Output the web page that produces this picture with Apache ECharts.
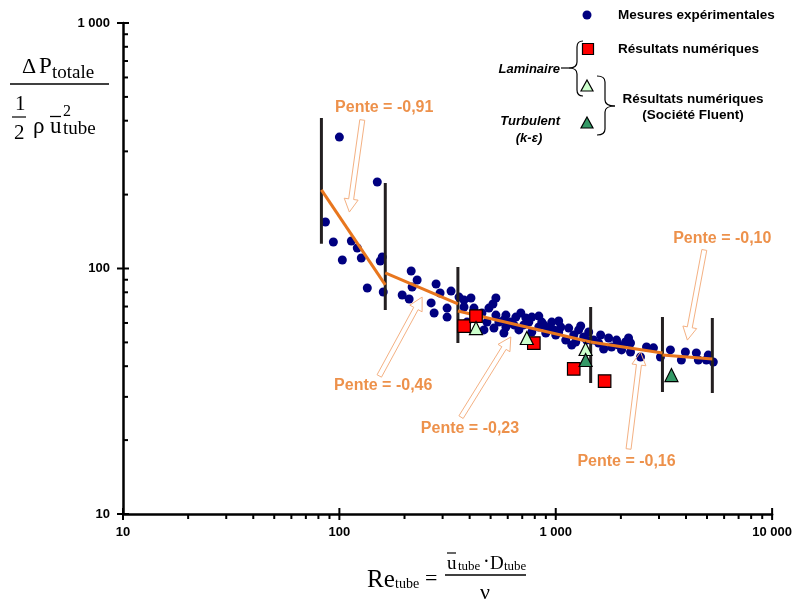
<!DOCTYPE html>
<html><head><meta charset="utf-8">
<script src="https://cdn.jsdelivr.net/npm/echarts@6/dist/echarts.min.js"></script>
<style>html,body{margin:0;padding:0;background:#fff}#c{width:795px;height:614px}</style>
</head><body><div id="c"></div>
<script>
// ---- data ----
const measuresRe = [100,149.7,86.2,93.8,103.2,113.6,121.0,126.3,134.6,154.5,157.8,159.5,195.1,214.7,228.8,216.9,210.1,279.9,292.0,328.2,265.5,274.1,314.6,314.6,376.7,405.7,357.3,376.7,418.8,456.0,491.2,529.0,465.8,529.0,512.6,388.9,588.3,654.0,727.5,775.3,861.9,958.5,1054,1148,1276,1420,588.3,675.3,775.3,899.3,1000,1112,1237,546.1,620.2,712.1,835.0,928.4,1032,1346,1612,1755,1910,2102,2216,1578,1811,2015,2216,2465,2627,2829,3047,3388,3807,3973,4465,4560,5070,4965,5347,1497,576,640.6,751,880.5,979,1211,1389,1951,432.5,480.8,689.7,835,1032,1304,1185,1665,2170,576,518];
const measuresDP = [343,225,154.7,128.2,108.3,129.4,121.2,110.4,83.3,107.3,111.4,80.2,78.0,97.7,89.8,84.1,75.1,86.5,79.5,80.9,72.4,65.9,69.0,63.4,74.4,75.8,76.5,69.7,69.0,65.9,69.0,75.8,56.2,64.6,71.7,60.5,64.6,63.4,62.9,63.4,60.5,60.5,57.8,57.2,56.2,55.1,57.8,56.2,55.1,54.6,53.6,51.1,50.2,60.5,60.5,58.9,57.8,57.2,55.1,52.6,53.6,52.1,51.1,50.2,49.7,49.7,47.9,46.6,45.7,43.6,47.9,47.5,43.6,46.6,42.4,45.7,45.3,42.4,44.4,42.4,41.6,51.1,61.7,58.9,60.5,58.9,56.2,53.6,51.1,48.8,64.0,60.5,65.9,64.0,61.1,58.3,48.8,47.0,52.1,54.6,57.2];
const laminarRe = [377,428,792,1211,1682];
const laminarDP = [58.3,64.0,49.7,39.0,34.8];
const fluentLamRe = [428,735,1374];
const fluentLamDP = [57.2,52.1,47.0];
const fluentTurbRe = [1374,3425];
const fluentTurbDP = [42.4,36.8];
const barRe = [82.6,163,353,1450,3113,5293];
const barLow = [126,67.8,49.7,34.2,31.4,31.1];
const barHigh = [410,223,101.4,69.7,63.5,62.9];
const fitStartRe = [82.6,163,353,1450,3113];
const fitStartDP = [209,95.9,67.1,50.2,44.4];
const fitEndRe = [163,353,1450,3113,5293];
const fitEndDP = [85.7,71.7,50.2,45.3,42.8];
const slopeLabels = ['Pente = -0,91','Pente = -0,46','Pente = -0,23','Pente = -0,16','Pente = -0,10'];
const slopeLabelRe = [161.2,159.5,401.5,2124,5884];
const slopeLabelDP = [450.7,33.2,22.2,16.4,131.9];
const arrowFromRe = [127.6,152.9,365,2170,4860];
const arrowFromDP = [402.7,36.5,24.8,18.4,119];
const arrowToRe = [111.2,241.3,620,2465,4058];
const arrowToDP = [169.8,76.5,52.6,45.7,51.1];
const xMajorTicks = [10,100,1000,10000];
const xMinorTicks = [20,30,40,50,60,70,80,90,200,300,400,500,600,700,800,900,2000,3000,4000,5000,6000,7000,8000,9000];
const yMajorTicks = [10,100,1000];
const yMinorTicks = [20,30,40,50,60,70,80,90,200,300,400,500,600,700,800,900];

// ---- styles ----
const SANS = '"Liberation Sans", Arial, sans-serif';
const SERIF = '"Liberation Serif", "Times New Roman", serif';
const ORANGE = '#E8761E';
const fmt = v => String(v).replace(/\B(?=(\d{3})+(?!\d))/g, ' ');

const chart = echarts.init(document.getElementById('c'), null, {renderer:'canvas'});

const zip = (a,b) => a.map((v,i)=>[v,b[i]]);

const series = [];
series.push({type:'scatter', name:'mes', data: zip(measuresRe, measuresDP), symbol:'circle', symbolSize:9,
  itemStyle:{color:'#000080', opacity:1}, z:2, silent:true});
barRe.forEach((x,i)=>series.push({type:'line', data:[[x,barLow[i]],[x,barHigh[i]]], symbol:'none',
  lineStyle:{color:'#231F20', width:3}, z:3, silent:true}));
fitStartRe.forEach((x,i)=>series.push({type:'line', data:[[x,fitStartDP[i]],[fitEndRe[i],fitEndDP[i]]], symbol:'none',
  lineStyle:{color:ORANGE, width:3}, z:4, silent:true}));
series.push({type:'scatter', data: zip(laminarRe, laminarDP), symbol:'rect', symbolSize:12.5,
  itemStyle:{color:'#FF0000', borderColor:'#000', borderWidth:1.2, opacity:1}, z:5, silent:true});
series.push({type:'scatter', data: zip(fluentLamRe, fluentLamDP), symbol:'triangle', symbolSize:13,
  itemStyle:{color:'#CCFFCC', borderColor:'#000', borderWidth:1.2, opacity:1}, z:5, silent:true});
series.push({type:'scatter', data: zip(fluentTurbRe, fluentTurbDP), symbol:'triangle', symbolSize:13,
  itemStyle:{color:'#339966', borderColor:'#000', borderWidth:1.2, opacity:1}, z:5, silent:true});
series.push({type:'custom', z:6, silent:true, clip:false,
  data: arrowFromRe.map((x,i)=>[x, arrowFromDP[i], arrowToRe[i], arrowToDP[i]]),
  encode:{x:[0,2], y:[1,3]},
  renderItem:(params, api)=>{
    const s = api.coord([api.value(0), api.value(1)]);
    const t = api.coord([api.value(2), api.value(3)]);
    const dx=t[0]-s[0], dy=t[1]-s[1], L=Math.hypot(dx,dy);
    const ux=dx/L, uy=dy/L, nx=-uy, ny=ux;
    const w=2.5, h=7, hl=13;
    const bx=t[0]-ux*hl, by=t[1]-uy*hl;
    const pts=[[s[0]+nx*w,s[1]+ny*w],[bx+nx*w,by+ny*w],[bx+nx*h,by+ny*h],[t[0],t[1]],
      [bx-nx*h,by-ny*h],[bx-nx*w,by-ny*w],[s[0]-nx*w,s[1]-ny*w]];
    return {type:'polygon', shape:{points:pts}, style:{fill:'rgba(255,255,255,0)', stroke:'#F4B183', lineWidth:1}};
  }});
series.push({type:'scatter', z:7, silent:true, symbolSize:0,
  data: slopeLabels.map((t,i)=>({name:t, value:[slopeLabelRe[i], slopeLabelDP[i]]})),
  label:{show:true, position:'inside', formatter:p=>p.name, color:ORANGE, fontFamily:SANS, fontWeight:'bold', fontSize:16}});
series.push({type:'custom', z:8, silent:true, clip:false,
  data: xMajorTicks.map(v=>[v,10,1]).concat(xMinorTicks.map(v=>[v,10,0])),
  encode:{x:0, y:1},
  renderItem:(params, api)=>{
    const p = api.coord([api.value(0), 10]);
    const major = api.value(2) === 1;
    return {type:'line', shape:{x1:p[0], y1:p[1]+(major?-6:0), x2:p[0], y2:p[1]+(major?6:5)}, style:{stroke:'#000', lineWidth:2}};
  }});
series.push({type:'custom', z:8, silent:true, clip:false,
  data: yMajorTicks.map(v=>[10,v,1]).concat(yMinorTicks.map(v=>[10,v,0])),
  encode:{x:0, y:1},
  renderItem:(params, api)=>{
    const p = api.coord([10, api.value(1)]);
    const major = api.value(2) === 1;
    return {type:'line', shape:{x1:p[0]+(major?-6:0), y1:p[1], x2:p[0]+(major?6:5), y2:p[1]}, style:{stroke:'#000', lineWidth:2}};
  }});

const txt = (x,y,text,font,extra) => ({type:'text', x:x, y:y, style:Object.assign({text:text, font:font, fill:'#000', textVerticalAlign:'middle'}, extra||{})});
const hline = (x1,y,x2,w) => ({type:'line', shape:{x1:x1,y1:y,x2:x2,y2:y}, style:{stroke:'#000', lineWidth:w||1.3}});
const vline = (x,y1,y2,w) => ({type:'line', shape:{x1:x,y1:y1,x2:x,y2:y2}, style:{stroke:'#000', lineWidth:w||1.2}});
const qc = (x1,y1,cx,cy,x2,y2) => ({type:'bezierCurve', shape:{x1:x1,y1:y1,cpx1:cx,cpy1:cy,x2:x2,y2:y2}, style:{stroke:'#000', fill:null, lineWidth:1.2}});

const graphic = [
  {type:'circle', shape:{cx:587, cy:15, r:4.5}, style:{fill:'#000080'}},
  txt(618,15,'Mesures expérimentales','bold 13.5px '+SANS),
  {type:'rect', shape:{x:582.5, y:43.5, width:11, height:11}, style:{fill:'#FF0000', stroke:'#000', lineWidth:1.2}},
  txt(618,49,'Résultats numériques','bold 13.5px '+SANS),
  {type:'polygon', shape:{points:[[587,80],[593,91],[581,91]]}, style:{fill:'#CCFFCC', stroke:'#000', lineWidth:1.2}},
  {type:'polygon', shape:{points:[[587,117],[593,128],[581,128]]}, style:{fill:'#339966', stroke:'#000', lineWidth:1.2}},
  // left brace
  qc(583,41,577,41,577,47), vline(577,47,62), qc(577,62,577,68,569,68), qc(569,68,577,68,577,74), vline(577,74,90), qc(577,90,577,96,583,96),
  hline(561,68,569,1.2),
  txt(560,69,'Laminaire','italic bold 13px '+SANS,{textAlign:'right'}),
  // right brace
  qc(597,76,605,76,605,82), vline(605,82,100), qc(605,100,605,106,615,106), qc(615,106,605,106,605,112), vline(605,112,129), qc(605,129,605,135,597,135),
  txt(693,99,'Résultats numériques','bold 13.5px '+SANS,{textAlign:'center'}),
  txt(693,115,'(Société Fluent)','bold 13.5px '+SANS,{textAlign:'center'}),
  txt(560,121,'Turbulent','italic bold 13px '+SANS,{textAlign:'right'}),
  txt(529,138,'(k-ε)','italic bold 13px '+SANS,{textAlign:'center'}),
  // y axis title
  txt(22,67,'Δ','22px '+SERIF),
  txt(39,67,'P','23px '+SERIF),
  txt(52,73,'totale','19px '+SERIF),
  hline(10,84,109,1.5),
  txt(15,104,'1','21px '+SERIF),
  hline(12,117,26,1.2),
  txt(14,133,'2','21px '+SERIF),
  txt(33,127,'ρ','23px '+SERIF),
  txt(50,127,'u','23px '+SERIF),
  hline(50,116.5,61,1.3),
  txt(63,112,'2','16px '+SERIF),
  txt(63,129,'tube','19px '+SERIF),
  // x axis title
  txt(367,580,'Re','25px '+SERIF),
  txt(395,584,'tube','14px '+SERIF),
  txt(425,579,'=','22px '+SERIF),
  txt(447,564,'u','19px '+SERIF),
  hline(447,553,456,1.2),
  txt(458,567,'tube','13px '+SERIF),
  txt(483,563,'·','20px '+SERIF),
  txt(490,564,'D','19px '+SERIF),
  txt(504,567,'tube','13px '+SERIF),
  hline(445,575,526,1.3),
  txt(485,593,'ν','22px '+SERIF,{textAlign:'center'})
];

chart.setOption({
  animation:false,
  backgroundColor:'#fff',
  grid:{left:123, top:23, right:21, bottom:100, containLabel:false},
  xAxis:{type:'log', logBase:10, min:10, max:10000,
    axisLine:{show:true, onZero:false, lineStyle:{color:'#000', width:2.5}},
    axisTick:{show:false}, minorTick:{show:false}, splitLine:{show:false}, minorSplitLine:{show:false},
    axisLabel:{formatter:fmt, color:'#000', fontFamily:SANS, fontWeight:'bold', fontSize:13, margin:12, showMinLabel:true, showMaxLabel:true}},
  yAxis:{type:'log', logBase:10, min:10, max:1000,
    axisLine:{show:true, onZero:false, lineStyle:{color:'#000', width:2.5}},
    axisTick:{show:false}, minorTick:{show:false}, splitLine:{show:false}, minorSplitLine:{show:false},
    axisLabel:{formatter:fmt, color:'#000', fontFamily:SANS, fontWeight:'bold', fontSize:13, margin:13, showMinLabel:true, showMaxLabel:true}},
  series: series,
  graphic: graphic
});
</script></body></html>
